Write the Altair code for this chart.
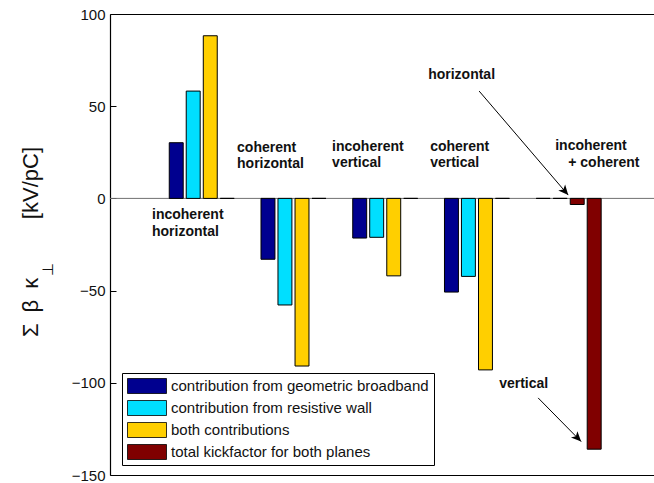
import altair as alt
import pandas as pd

# --- data -------------------------------------------------------------
series_names = [
    "contribution from geometric broadband",
    "contribution from resistive wall",
    "both contributions",
    "total kickfactor for both planes",
]
series_colors = ["#00008F", "#00DFFF", "#FFCF00", "#800000"]

groups = [1, 2, 3, 4, 5]
geometric_bb = [30.2, -33.0, -21.5, -50.8, 0.0]
resistive_wall = [58.2, -57.8, -21.1, -42.3, 0.0]
third_slot = [88.2, -90.9, -42.0, -93.0, -3.3]      # last group: total, horizontal
third_slot_series = [2, 2, 2, 2, 3]
fourth_slot = [0.0, 0.0, 0.0, 0.0, -136.0]          # last group: total, vertical

y_ticks = [-150, -100, -50, 0, 50, 100]

# annotation text (left edge, vertical centre) in data units
note_text = ["incoherent", "horizontal", "coherent", "horizontal", "incoherent", "vertical",
             "coherent", "vertical", "incoherent", "+ coherent", "horizontal", "vertical"]
note_x = [0.458, 0.458, 1.385, 1.385, 2.421, 2.421, 3.49, 3.49, 4.853, 4.995, 3.468, 4.242]
note_y = [-9.0, -18.2, 27.3, 18.7, 27.9, 19.2, 27.9, 19.2, 28.4, 19.2, 66.9, -100.6]

# arrows: start -> tip, in data units
arrow_x0 = [4.024, 4.667]
arrow_y0 = [58.2, -108.2]
arrow_x1 = [4.995, 5.136]
arrow_y1 = [1.8, -131.9]
arrow_angle = [139.4, 135.7]

# --- layout -----------------------------------------------------------
slot_offsets = [-0.278, -0.093, 0.093, 0.278]
half_w = 0.076
W, H = 544, 461

rows = []
for i, g in enumerate(groups):
    slots = [
        (geometric_bb[i], 0),
        (resistive_wall[i], 1),
        (third_slot[i], third_slot_series[i]),
        (fourth_slot[i], 3),
    ]
    for k, (v, s) in enumerate(slots):
        c = g + slot_offsets[k]
        rows.append({"x0": c - half_w, "x1": c + half_w, "value": v, "base": 0.0,
                     "series": series_names[s]})
bars_df = pd.DataFrame(rows)

notes_df = pd.DataFrame({"x": note_x, "y": note_y, "text": note_text})
arrows_df = pd.DataFrame({"x0": arrow_x0, "y0": arrow_y0, "x1": arrow_x1,
                          "y1": arrow_y1, "ang": arrow_angle})

FONT = "Liberation Sans"
xscale = alt.Scale(domain=[0, 5.93], nice=False, zero=False)
yscale = alt.Scale(domain=[-150, 100], nice=False, zero=False)

baseline = alt.Chart(pd.DataFrame({"y": [0]})).mark_rule(
    color="#707070", strokeWidth=1
).encode(
    y=alt.Y("y:Q", scale=yscale,
            axis=alt.Axis(orient="left", values=y_ticks, ticks=False, grid=False,
                          domain=True, domainColor="black", domainWidth=1.2,
                          labelFont=FONT, labelFontSize=15, labelColor="#111111",
                          labelPadding=5, title=None))
)

bars = alt.Chart(bars_df).mark_bar(stroke="black", strokeWidth=1).encode(
    x=alt.X("x0:Q", scale=xscale,
            axis=alt.Axis(orient="bottom", ticks=False, labels=False, grid=False,
                          domain=True, domainColor="black", domainWidth=1.2, title=None)),
    x2="x1:Q",
    y=alt.Y("value:Q", scale=yscale,
            axis=alt.Axis(orient="right", offset=-W, values=y_ticks, ticks=True,
                          tickSize=6, tickColor="black", labels=False, domain=False,
                          grid=False, title=None)),
    y2="base:Q",
    color=alt.Color(
        "series:N",
        scale=alt.Scale(domain=series_names, range=series_colors),
        legend=alt.Legend(
            orient="none", legendX=12, legendY=359, title=None,
            symbolType="M-1,-0.385H1V0.385H-1Z", symbolSize=1521,
            symbolStrokeColor="black", symbolStrokeWidth=0.8, symbolOpacity=1,
            labelFont=FONT, labelFontSize=15, labelColor="#111111",
            labelOffset=4, labelLimit=500, clipHeight=16, rowPadding=6.0,
            padding=5, strokeColor="black", fillColor="white",
        ),
    ),
)

frame_top = alt.Chart(pd.DataFrame({"x": [0.0]})).mark_point(opacity=0).encode(
    x=alt.X("x:Q", scale=xscale,
            axis=alt.Axis(orient="top", ticks=False, labels=False, grid=False,
                          domain=True, domainColor="black", domainWidth=1.2, title=None))
)

notes = alt.Chart(notes_df).mark_text(
    align="left", baseline="middle", font=FONT, fontSize=14, fontWeight="bold",
    color="#111111"
).encode(
    x=alt.X("x:Q", scale=xscale, axis=None),
    y=alt.Y("y:Q", scale=yscale, axis=None),
    text="text:N",
)

arrow_lines = alt.Chart(arrows_df).mark_rule(color="black", strokeWidth=1).encode(
    x=alt.X("x0:Q", scale=xscale, axis=None),
    y=alt.Y("y0:Q", scale=yscale, axis=None),
    x2="x1:Q",
    y2="y1:Q",
)

arrow_heads = alt.Chart(arrows_df).mark_point(
    shape="M0,0L-0.45,1L0,0.75L0.45,1Z", filled=True, color="black", size=400,
    opacity=1
).encode(
    x=alt.X("x1:Q", scale=xscale, axis=None),
    y=alt.Y("y1:Q", scale=yscale, axis=None),
    angle=alt.Angle("ang:Q", scale=None),
)

# rotated axis title: Σ β κ⊥  [kV/pC]
title_main = alt.Chart(pd.DataFrame({"a": [0]})).mark_text(
    text="Σ\u2002β\u2002κ", angle=270, align="left", baseline="alphabetic",
    font=FONT, fontSize=22, color="#111111"
).encode(x=alt.value(-72.5), y=alt.value(323))

title_sub = alt.Chart(pd.DataFrame({"a": [0]})).mark_text(
    text="⊥", angle=270, align="left", baseline="alphabetic",
    font=FONT, fontSize=15, color="#111111"
).encode(x=alt.value(-57), y=alt.value(262))

title_unit = alt.Chart(pd.DataFrame({"a": [0]})).mark_text(
    text="[kV/pC]", angle=270, align="right", baseline="alphabetic",
    font=FONT, fontSize=22, color="#111111"
).encode(x=alt.value(-72.5), y=alt.value(133))

chart = alt.layer(
    baseline, bars, frame_top, notes, arrow_lines, arrow_heads,
    title_main, title_sub, title_unit
).resolve_axis(
    x="independent", y="independent"
).properties(
    width=W, height=H,
    autosize=alt.AutoSizeParams(type="none"),
    padding={"left": 110, "top": 14, "right": 0, "bottom": 8},
    background="white",
).configure_view(stroke=None)

chart.save("out.html", embed_options={"renderer": "svg", "actions": False})
